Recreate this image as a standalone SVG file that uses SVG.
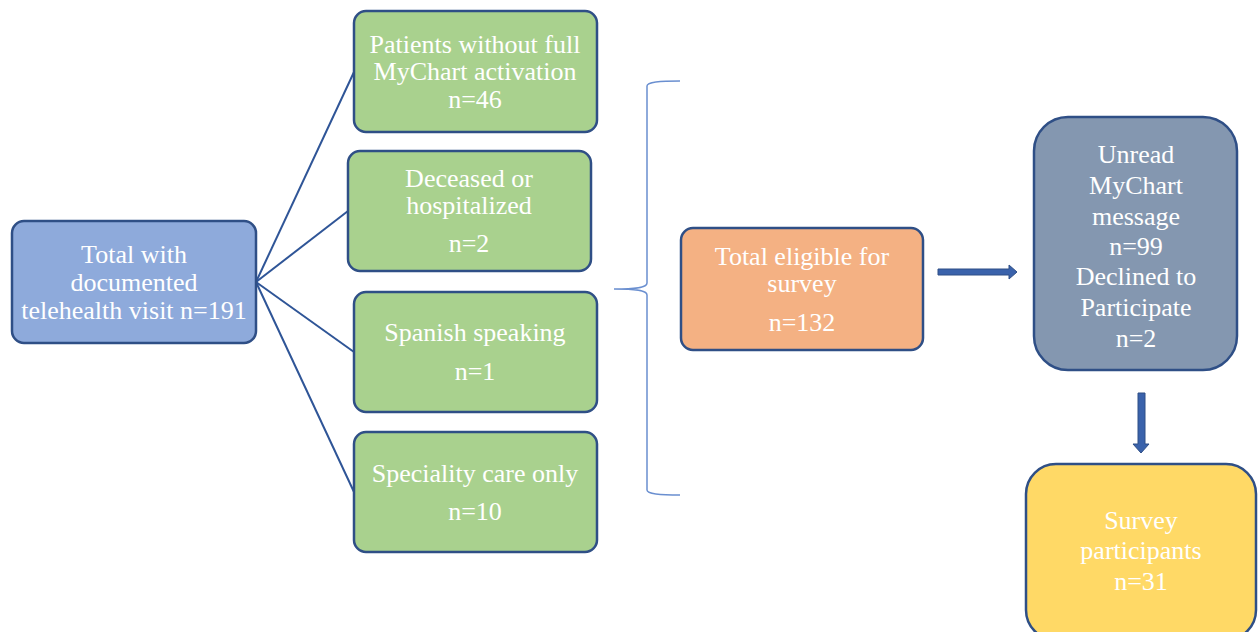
<svg xmlns="http://www.w3.org/2000/svg" width="1258" height="632" viewBox="0 0 1258 632">
<style>
.box{stroke:#2f4f86;stroke-width:2.5}
.t{font-family:"Liberation Serif","Times New Roman",serif;font-size:26px;fill:#ffffff;text-anchor:middle}
.ln{stroke:#2f5597;stroke-width:2;fill:none}
.ar{fill:#3a62ab;stroke:#2f4f86;stroke-width:1}
</style>
<rect width="1258" height="632" fill="#ffffff"/>
<g id="connectors">
<line class="ln" x1="256" y1="282" x2="354" y2="72"/>
<line class="ln" x1="256" y1="282" x2="348" y2="211"/>
<line class="ln" x1="256" y1="282" x2="354" y2="352"/>
<line class="ln" x1="256" y1="282" x2="354" y2="492"/>
<path d="M680,81 C660,81 647,82 647,86 L647,283 C647,287 640,289 614,289 C640,289 647,291 647,295 L647,490 C647,494 660,495 680,495" fill="none" stroke="#6a8fd0" stroke-width="1.5"/>
<path class="ar" d="M938,269 L1009,269 L1009,265 L1017,272 L1009,279 L1009,275 L938,275 Z"/>
<path class="ar" d="M1138,393 L1145,393 L1145,444 L1149,444 L1141,453 L1133,444 L1138,444 Z"/>
</g>
<g id="total">
<rect class="box" x="12" y="221" width="244" height="122" rx="12" fill="#8eaadb"/>
<text class="t" x="134" y="263">Total with</text>
<text class="t" x="134" y="291">documented</text>
<text class="t" x="134" y="319">telehealth visit n=191</text>
</g>
<g id="nomychart">
<rect class="box" x="354" y="11" width="243" height="121" rx="12" fill="#a9d18e"/>
<text class="t" x="475" y="53">Patients without full</text>
<text class="t" x="475" y="80">MyChart activation</text>
<text class="t" x="475" y="108">n=46</text>
</g>
<g id="deceased">
<rect class="box" x="348" y="151" width="243" height="120" rx="12" fill="#a9d18e"/>
<text class="t" x="469" y="187">Deceased or</text>
<text class="t" x="469" y="214">hospitalized</text>
<text class="t" x="469" y="252">n=2</text>
</g>
<g id="spanish">
<rect class="box" x="354" y="292" width="243" height="120" rx="12" fill="#a9d18e"/>
<text class="t" x="475" y="341">Spanish speaking</text>
<text class="t" x="475" y="380">n=1</text>
</g>
<g id="specialty">
<rect class="box" x="354" y="432" width="243" height="120" rx="12" fill="#a9d18e"/>
<text class="t" x="475" y="482">Speciality care only</text>
<text class="t" x="475" y="520">n=10</text>
</g>
<g id="eligible">
<rect class="box" x="681" y="228" width="242" height="122" rx="12" fill="#f4b183"/>
<text class="t" x="802" y="265">Total eligible for</text>
<text class="t" x="802" y="292">survey</text>
<text class="t" x="802" y="331">n=132</text>
</g>
<g id="unread">
<rect class="box" x="1034" y="117" width="203" height="253" rx="34" fill="#8497b0"/>
<text class="t" x="1136" y="163">Unread</text>
<text class="t" x="1136" y="194">MyChart</text>
<text class="t" x="1136" y="225">message</text>
<text class="t" x="1136" y="255">n=99</text>
<text class="t" x="1136" y="285">Declined to</text>
<text class="t" x="1136" y="316">Participate</text>
<text class="t" x="1136" y="347">n=2</text>
</g>
<g id="participants">
<rect class="box" x="1026" y="464" width="230" height="176" rx="30" fill="#ffd966"/>
<text class="t" x="1141" y="529">Survey</text>
<text class="t" x="1141" y="559">participants</text>
<text class="t" x="1141" y="590">n=31</text>
</g>
</svg>
